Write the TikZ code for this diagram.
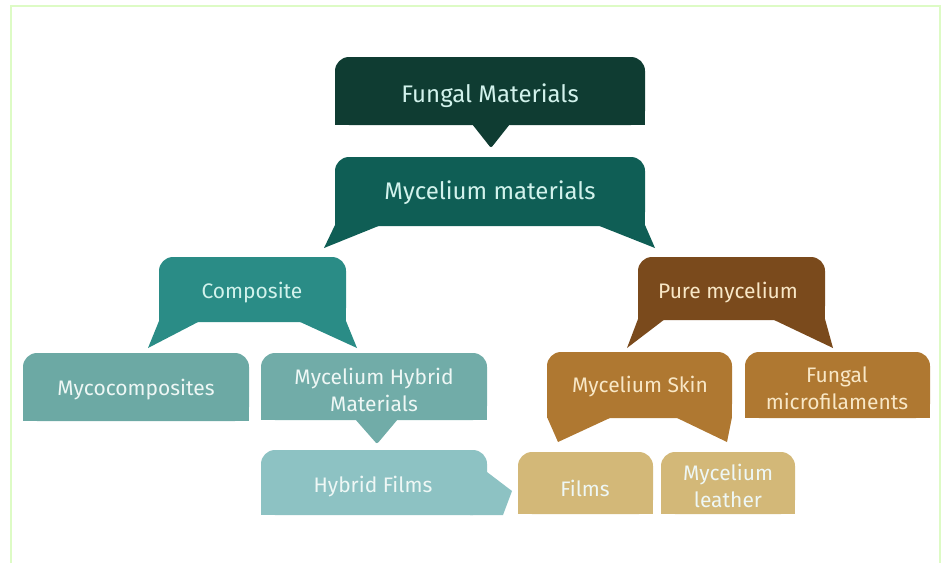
\documentclass[tikz,border=0pt]{standalone}
\usepackage{fontspec}
\setmainfont{Fira Sans}
\usepackage{tikz}

\definecolor{FrameGreen}{HTML}{DDFBC5}
\definecolor{FungalGreen}{HTML}{0F3C32}
\definecolor{MyceliumGreen}{HTML}{0F5E55}
\definecolor{CompositeTeal}{HTML}{2A8C86}
\definecolor{MycoTeal}{HTML}{6CA9A4}
\definecolor{HybridTeal}{HTML}{71ACA8}
\definecolor{FilmsTeal}{HTML}{8DC2C3}
\definecolor{PureBrown}{HTML}{7A4A1C}
\definecolor{SkinBrown}{HTML}{AF7831}
\definecolor{FilmsSand}{HTML}{D3B878}
\definecolor{MintText}{HTML}{D2F2EC}
\definecolor{CreamText}{HTML}{F8E7C6}
\definecolor{PaleText}{HTML}{EEF7F5}

\newcommand{\tabbox}[5]{%
\fill[#1,rounded corners=14pt] (#2,#3) rectangle (#4,#5);
\fill[#1] (#2,#3+20) rectangle (#4,#5);}

\tikzset{
  lbl/.style={text=MintText,font=\fontsize{21}{27}\selectfont,align=center},
  toplbl/.style={lbl,font=\fontsize{24}{28}\selectfont},
  brownlbl/.style={lbl,text=CreamText},
}

\begin{document}
\begin{tikzpicture}[x=1pt,y=-1pt]
\useasboundingbox (0,0) rectangle (944,563);
\draw[FrameGreen,line width=2pt] (10.5,563) -- (10.5,5.5) -- (940,5.5) -- (940,563);

\tabbox{FungalGreen}{335}{57}{645}{125}
\fill[FungalGreen,rounded corners=2pt] (472,124) -- (491,148) -- (510,124) -- cycle;
\node[toplbl] (fungal) at (490,96) {Fungal Materials};

\tabbox{MyceliumGreen}{335}{157}{645}{226}
\fill[MyceliumGreen] (335,225) -- (324,248) -- (381,225) -- cycle;
\fill[MyceliumGreen] (597,225) -- (655,248) -- (645,225) -- cycle;
\node[toplbl] (mycelium) at (490,193) {Mycelium materials};

\tabbox{CompositeTeal}{159}{257}{346}{322}
\fill[CompositeTeal] (159,321) -- (148,348) -- (200,321) -- cycle;
\fill[CompositeTeal] (298,321) -- (357,348) -- (346,321) -- cycle;
\node[lbl] (composite) at (252,293) {Composite};

\tabbox{PureBrown}{638}{257}{825}{320}
\fill[PureBrown] (638,319) -- (627,348) -- (665,319) -- cycle;
\fill[PureBrown] (772,319) -- (833,348) -- (825,319) -- cycle;
\node[brownlbl] (pure) at (728,293) {Pure mycelium};

\tabbox{MycoTeal}{23}{353}{249}{421}
\node[lbl,text=PaleText] (myco) at (136,390) {Mycocomposites};

\tabbox{HybridTeal}{261}{353}{487}{420}
\fill[HybridTeal,rounded corners=2pt] (355,419) -- (377,444) -- (398,419) -- cycle;
\node[lbl,text=PaleText] (hybrid) at (374,390) {Mycelium Hybrid\\Materials};

\tabbox{FilmsTeal}{261}{450}{487}{515}
\fill[FilmsTeal] (470,472) -- (487,472) -- (512,491) -- (503,515) -- (470,515) -- cycle;
\node[lbl,text=PaleText] (hybridfilms) at (373,487) {Hybrid Films};

\tabbox{SkinBrown}{547}{352}{732}{418}
\fill[SkinBrown] (547,417) -- (558,442) -- (612,417) -- cycle;
\fill[SkinBrown] (675,417) -- (727,442) -- (732,417) -- cycle;
\node[brownlbl] (skin) at (640,387) {Mycelium Skin};

\tabbox{SkinBrown}{745}{352}{930}{418}
\node[brownlbl] (microfil) at (837,388) {Fungal\\microfilaments};

\tabbox{FilmsSand}{518}{452}{653}{514}
\node[brownlbl,text=PaleText] (films) at (585,488) {Films};

\tabbox{FilmsSand}{661}{452}{795}{514}
\node[brownlbl,text=PaleText] (leather) at (728,486) {Mycelium\\leather};

\end{tikzpicture}
\end{document}
